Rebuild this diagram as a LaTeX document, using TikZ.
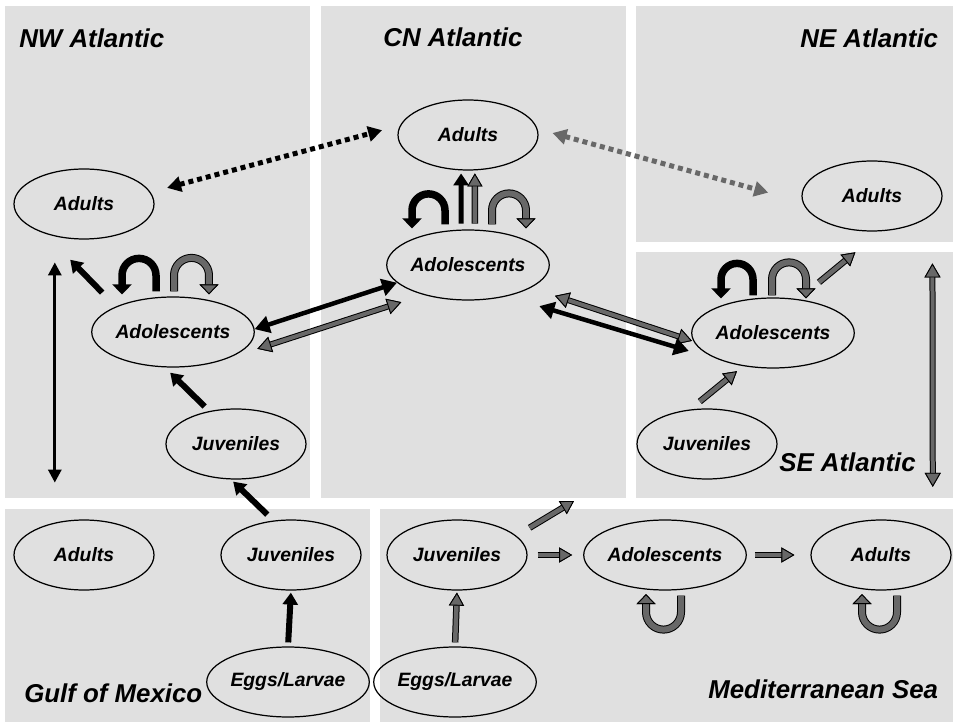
\documentclass[tikz,border=0pt]{standalone}
\usepackage{fontspec}
\setmainfont{Liberation Sans}
\usetikzlibrary{arrows.meta}
\usetikzlibrary{shapes.geometric}
\definecolor{panelgray}{RGB}{224,224,224}
\definecolor{arrowgray}{RGB}{104,104,104}
\tikzstyle{region} = [fill=panelgray]
\tikzstyle{stage} = [ellipse, draw=black, line width=0.7pt, minimum width=2.8cm, minimum height=1.4cm, inner sep=0pt, font=\fontsize{11}{13}\selectfont\bfseries\itshape]
\tikzstyle{title} = [inner sep=0pt, anchor=base west, font=\fontsize{14.7}{17}\selectfont\bfseries\itshape]
\tikzstyle{blk} = [-{Triangle[length=0.24cm,width=0.3cm]}, line width=0.12cm]
\tikzstyle{blkdbl} = [{Triangle[length=0.3cm,width=0.34cm]}-{Triangle[length=0.3cm,width=0.34cm]}, line width=0.09cm]
\tikzstyle{blkthin} = [{Triangle[length=0.26cm,width=0.26cm]}-{Triangle[length=0.26cm,width=0.26cm]}, line width=0.06cm]
\tikzstyle{gry} = [-{Triangle[length=0.26cm,width=0.3cm,fill=arrowgray,color=black,line width=0.5pt]}, draw=arrowgray, line width=0.09cm, preaction={draw=black, line width=0.13cm}]
\tikzstyle{grydbl} = [{Triangle[length=0.28cm,width=0.32cm,fill=arrowgray,color=black,line width=0.5pt]}-{Triangle[length=0.28cm,width=0.32cm,fill=arrowgray,color=black,line width=0.5pt]}, draw=arrowgray, line width=0.08cm, preaction={draw=black, line width=0.12cm}]
\tikzstyle{dotblk} = [{Triangle[length=0.28cm,width=0.3cm]}-{Triangle[length=0.28cm,width=0.3cm]}, line width=0.1cm, dash pattern=on 0.1cm off 0.08cm]
\tikzstyle{dotgry} = [dotblk, draw=arrowgray]
\tikzstyle{loopblk} = [-{Triangle[length=0.2cm,width=0.38cm]}, line width=0.15cm]
\tikzstyle{loopgry} = [-{Triangle[length=0.2cm,width=0.38cm,fill=arrowgray,color=black,line width=0.5pt]}, draw=arrowgray, line width=0.12cm, preaction={draw=black, line width=0.16cm}]

\begin{document}
\begin{tikzpicture}[x=0.02cm, y=-0.02cm]

  \useasboundingbox (0,0) rectangle (953,722);

  % regions
  \fill[region] (5,6) rectangle (310,498);
  \fill[region] (321,6) rectangle (626,498);
  \fill[region] (636,6) rectangle (953,242);
  \fill[region] (636,252) rectangle (953,498);
  \fill[region] (5,509) rectangle (370,722);
  \fill[region] (380,509) rectangle (953,722);

  \node[title] (tnw) at (19,48) {NW Atlantic};
  \node[title] (tcn) at (383,47) {CN Atlantic};
  \node[title] (tne) at (800,48) {NE Atlantic};
  \node[title] (tse) at (779,472) {SE Atlantic};
  \node[title] (tgm) at (24,702) {Gulf of Mexico};
  \node[title] (tmed) at (708,698) {Mediterranean Sea};

  % NW Atlantic
  \node[stage] (nwad) at (84,204) {Adults};
  \node[stage] (nwado) at (173,332) {Adolescents};
  \node[stage] (nwjuv) at (236,444) {Juveniles};

  \draw[blk, shorten <=0.39cm, shorten >=0.73cm] (nwado.156) -- (nwad.217);
  \draw[blk, shorten <=0.13cm, shorten >=0.15cm] (nwjuv.129) -- (nwado.257);
  \draw[loopblk] ([shift={(-17,-5)}]nwado.north) -- ++(0,-16) arc[start angle=0, end angle=180, radius=0.34cm] -- ++(0,19);
  \draw[loopgry] ([shift={(1,-5)}]nwado.north) -- ++(0,-16) arc[start angle=180, end angle=0, radius=0.35cm] -- ++(0,19);

  % CN Atlantic
  \node[stage] (cnad) at (468,135) {Adults};
  \node[stage] (cnado) at (468,265) {Adolescents};

  \draw[blk, line width=0.1cm, shorten <=0.12cm, shorten >=0.06cm] (cnado.101) -- (cnad.259);
  \draw[gry, shorten <=0.12cm, shorten >=0.06cm] (cnado.79) -- (cnad.281);
  \draw[loopblk] ([shift={(-23,-5)}]cnado.north) -- ++(0,-14) arc[start angle=0, end angle=180, radius=0.33cm] -- ++(0,18);
  \draw[loopgry] ([shift={(24,-5)}]cnado.north) -- ++(0,-14) arc[start angle=180, end angle=0, radius=0.34cm] -- ++(0,18);

  % NE and SE Atlantic
  \node[stage] (nead) at (872,196) {Adults};
  \node[stage] (seado) at (773,333) {Adolescents};
  \node[stage] (sejuv) at (707,444) {Juveniles};

  \draw[gry, shorten <=0.25cm, shorten >=0.16cm] (sejuv.116) -- (seado.228);
  \draw[gry, shorten <=0.53cm, shorten >=0.66cm] (seado.53) -- (nead.284);
  \draw[loopblk] ([shift={(-20,-2)}]seado.north) -- ++(0,-16) arc[start angle=0, end angle=180, radius=0.32cm] -- ++(0,19);
  \draw[loopgry] ([shift={(-1,-2)}]seado.north) -- ++(0,-16) arc[start angle=180, end angle=0, radius=0.34cm] -- ++(0,19);

  % Gulf of Mexico
  \node[stage] (gad) at (84,555) {Adults};
  \node[stage] (gjuv) at (291,555) {Juveniles};
  \node[stage] (gegg) at (288,682) {Eggs/Larvae};

  \draw[blk, shorten <=0.08cm, shorten >=0.04cm] (gegg.north) -- (gjuv.south);
  \draw[blk, shorten <=0.17cm, shorten >=0.06cm] (gjuv.117) -- (nwjuv.262);
  \draw[blkthin, shorten <=0.52cm, shorten >=0.8cm] (nwad.228) -- (gad.132);

  % Mediterranean Sea
  \node[stage] (mjuv) at (457,555) {Juveniles};
  \node[stage] (megg) at (455,682) {Eggs/Larvae};
  \node[stage] (mado) at (665,555) {Adolescents};
  \node[stage] (mad) at (881,555) {Adults};
  \coordinate (mout) at (574,501);

  \draw[gry, shorten <=0.08cm, shorten >=0.04cm] (megg.north) -- (mjuv.south);
  \draw[gry, shorten <=0.2cm, shorten >=0.22cm] (mjuv.east) -- (mado.west);
  \draw[gry, shorten <=0.16cm, shorten >=0.32cm] (mado.east) -- (mad.west);
  \draw[gry, shorten <=0.31cm] (mjuv.18) -- (mout);
  \draw[loopgry] ([shift={(16,5)}]mado.south) -- ++(0,16.5) arc[start angle=0, end angle=-180, radius=0.35cm] -- ++(0,-18);
  \draw[loopgry] ([shift={(16,5)}]mad.south) -- ++(0,16.5) arc[start angle=0, end angle=-180, radius=0.35cm] -- ++(0,-18);

  % exchanges between regions
  \draw[dotblk, shorten <=0.34cm, shorten >=0.37cm] (nwad.10) -- (cnad.172);
  \draw[dotgry, shorten <=0.31cm, shorten >=0.71cm] (cnad.5) -- (nead.185);
  \draw[blkdbl] (nwado.2) -- (cnado.194);
  \draw[grydbl, shorten <=0.6cm, shorten >=0.47cm] (nwado.335) -- (cnado.214);
  \draw[grydbl, shorten <=0.51cm, shorten >=0.03cm] (cnado.340) -- (seado.186);
  \draw[blkdbl, shorten <=0.68cm, shorten >=0.73cm] (cnado.321) -- (seado.210);
  \draw[grydbl, shorten <=0.98cm, shorten >=0.88cm] (nead.343) -- (mad.25);

\end{tikzpicture}
\end{document}
